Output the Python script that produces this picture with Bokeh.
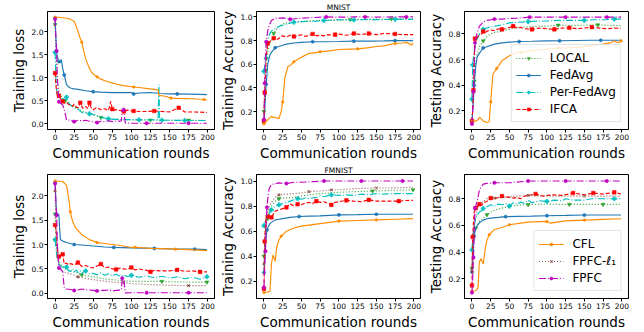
from bokeh.plotting import figure
from bokeh.models import FixedTicker, PrintfTickFormatter, Legend, LegendItem
from bokeh.layouts import column, row
from bokeh.embed import file_html
from bokeh.resources import INLINE

ROUND_TICKS = [0, 25, 50, 75, 100, 125, 150, 175, 200]
LOSS_TICKS = [0.0, 0.5, 1.0, 1.5, 2.0]
TRAIN_ACC_TICKS = [0.2, 0.4, 0.6, 0.8, 1.0]
TEST_ACC_TICKS = [0.2, 0.4, 0.6, 0.8]
METHODS = ["LOCAL", "FedAvg", "Per-FedAvg", "IFCA", "CFL", "FPFC-ℓ₁", "FPFC"]

# ---------------- MNIST : training loss ----------------
p1_local_x = [0, 1, 2, 3, 5, 7, 10, 13, 15, 18, 20, 25, 30, 35, 40, 45, 50, 55, 60, 65, 70, 80, 90, 100, 110, 125, 140, 150, 160, 175, 190, 199]
p1_local_y = [2.15, 1.6, 1.15, 0.9, 0.72, 0.62, 0.55, 0.5, 0.47, 0.44, 0.42, 0.38, 0.33, 0.28, 0.25, 0.23, 0.21, 0.17, 0.14, 0.12, 0.11, 0.10, 0.095, 0.09, 0.09, 0.085, 0.085, 0.08, 0.08, 0.08, 0.08, 0.08]
p1_local_m = [0, 13, 60, 125, 175]
p1_fedavg_x = [0, 1, 2, 3, 5, 7, 8, 10, 12, 15, 18, 20, 25, 30, 40, 50, 60, 75, 90, 100, 103, 110, 125, 137, 150, 160, 175, 190, 199]
p1_fedavg_y = [2.3, 1.9, 1.55, 1.45, 1.35, 1.33, 1.4, 1.2, 1.06, 0.85, 0.8, 0.78, 0.76, 0.75, 0.72, 0.70, 0.69, 0.68, 0.68, 0.68, 0.65, 0.67, 0.68, 0.66, 0.65, 0.65, 0.645, 0.64, 0.635]
p1_fedavg_m = [0, 5, 12, 50, 103, 160]
p1_perfed_x = [0, 1, 2, 3, 5, 8, 10, 12, 15, 18, 20, 25, 30, 35, 40, 45, 50, 55, 60, 65, 70, 80, 90, 100, 110, 120, 130, 135, 136, 137, 140, 150, 170, 185, 199]
p1_perfed_y = [1.55, 1.0, 0.75, 0.65, 0.6, 0.55, 0.55, 0.52, 0.58, 0.45, 0.41, 0.35, 0.32, 0.25, 0.24, 0.22, 0.2, 0.18, 0.15, 0.13, 0.11, 0.1, 0.095, 0.095, 0.09, 0.09, 0.09, 0.09, 0.85, 0.08, 0.08, 0.08, 0.075, 0.075, 0.075]
p1_perfed_m = [0, 15, 45, 70, 110, 140, 170]
p1_ifca_x = [0, 1, 2, 3, 5, 7, 10, 12, 15, 18, 20, 23, 25, 28, 30, 33, 36, 40, 43, 45, 48, 50, 55, 60, 65, 70, 73, 75, 78, 80, 85, 90, 95, 100, 103, 110, 120, 130, 140, 150, 162, 170, 180, 190, 199]
p1_ifca_y = [1.1, 0.85, 0.7, 0.62, 0.61, 0.55, 0.49, 0.45, 0.47, 0.42, 0.41, 0.38, 0.43, 0.36, 0.35, 0.46, 0.34, 0.38, 0.33, 0.46, 0.32, 0.31, 0.36, 0.31, 0.33, 0.29, 0.49, 0.32, 0.30, 0.31, 0.29, 0.27, 0.30, 0.28, 0.28, 0.27, 0.27, 0.28, 0.27, 0.26, 0.35, 0.26, 0.26, 0.255, 0.25]
p1_ifca_m = [0, 5, 10, 33, 45, 75, 90, 103, 130, 162]
p1_cfl_x = [0, 5, 10, 15, 20, 25, 28, 30, 33, 35, 38, 40, 43, 47, 50, 55, 60, 68, 75, 81, 90, 103, 110, 124, 130, 135, 136, 140, 146, 152, 160, 172, 180, 189, 195, 199]
p1_cfl_y = [2.31, 2.31, 2.3, 2.29, 2.27, 2.22, 2.1, 2.0, 1.85, 1.77, 1.55, 1.42, 1.28, 1.14, 1.08, 1.02, 0.97, 0.92, 0.89, 0.86, 0.83, 0.80, 0.79, 0.76, 0.75, 0.735, 0.62, 0.61, 0.595, 0.56, 0.555, 0.55, 0.545, 0.535, 0.53, 0.515]
p1_cfl_m = [0, 35, 55, 103, 152, 195]
p1_fpfc_x = [0, 1, 2, 3, 5, 7, 10, 12, 15, 20, 25, 30, 35, 40, 45, 50, 55, 60, 65, 70, 75, 80, 85, 87, 88, 90, 92, 100, 120, 150, 175, 199]
p1_fpfc_y = [2.27, 1.9, 1.58, 1.0, 0.48, 0.45, 0.41, 0.31, 0.09, 0.08, 0.05, 0.08, 0.07, 0.08, 0.06, 0.05, 0.03, 0.06, 0.05, 0.07, 0.05, 0.06, 0.06, 0.07, 0.32, 0.31, 0.02, 0.015, 0.015, 0.015, 0.015, 0.015]
p1_fpfc_m = [0, 2, 5, 25, 55, 90, 120, 175]

# ---------------- MNIST : training accuracy ----------------
p2_local_x = [0, 1, 2, 3, 5, 7, 10, 13, 16, 20, 25, 30, 40, 50, 60, 70, 85, 100, 115, 130, 150, 170, 185, 199]
p2_local_y = [0.2, 0.4, 0.55, 0.62, 0.7, 0.76, 0.8, 0.86, 0.89, 0.92, 0.94, 0.95, 0.955, 0.96, 0.965, 0.97, 0.972, 0.975, 0.978, 0.98, 0.982, 0.983, 0.984, 0.985]
p2_local_m = [0, 2, 13, 115, 170]
p2_fedavg_x = [0, 1, 2, 3, 5, 8, 10, 15, 20, 25, 30, 40, 50, 65, 80, 100, 120, 140, 160, 175, 199]
p2_fedavg_y = [0.108, 0.2, 0.33, 0.43, 0.6, 0.68, 0.7, 0.74, 0.75, 0.76, 0.77, 0.78, 0.785, 0.79, 0.79, 0.792, 0.795, 0.795, 0.797, 0.8, 0.8]
p2_fedavg_m = [0, 3, 15, 65, 120, 175]
p2_perfed_x = [0, 1, 2, 3, 5, 7, 10, 15, 20, 25, 30, 40, 50, 60, 70, 80, 90, 100, 120, 140, 160, 175, 190, 199]
p2_perfed_y = [0.54, 0.58, 0.62, 0.65, 0.8, 0.85, 0.88, 0.9, 0.92, 0.93, 0.94, 0.955, 0.96, 0.963, 0.965, 0.97, 0.972, 0.975, 0.975, 0.977, 0.978, 0.98, 0.98, 0.98]
p2_perfed_m = [0, 3, 40, 80, 120, 175]
p2_ifca_x = [0, 1, 2, 3, 5, 7, 10, 13, 15, 18, 20, 23, 25, 30, 35, 40, 45, 50, 55, 60, 65, 70, 75, 80, 85, 90, 95, 100, 110, 120, 130, 140, 150, 160, 175, 185, 199]
p2_ifca_y = [0.12, 0.36, 0.5, 0.66, 0.777, 0.79, 0.8, 0.82, 0.83, 0.81, 0.82, 0.835, 0.84, 0.83, 0.845, 0.835, 0.84, 0.85, 0.835, 0.845, 0.856, 0.84, 0.845, 0.84, 0.85, 0.845, 0.85, 0.855, 0.845, 0.86, 0.85, 0.86, 0.85, 0.86, 0.856, 0.85, 0.85]
p2_ifca_m = [0, 1, 5, 13, 40, 65, 95, 120, 140, 175]
p2_cfl_x = [0, 5, 10, 12, 15, 20, 23, 25, 28, 32, 35, 40, 45, 50, 60, 75, 90, 100, 115, 125, 140, 150, 160, 175, 185, 190, 195, 197, 199]
p2_cfl_y = [0.095, 0.13, 0.16, 0.15, 0.15, 0.14, 0.2, 0.28, 0.49, 0.58, 0.59, 0.62, 0.64, 0.66, 0.69, 0.705, 0.715, 0.725, 0.728, 0.73, 0.74, 0.75, 0.755, 0.775, 0.78, 0.785, 0.77, 0.76, 0.78]
p2_cfl_m = [0, 25, 40, 75, 125, 175]
p2_fpfc_x = [0, 1, 2, 3, 5, 7, 10, 15, 20, 25, 35, 50, 65, 83, 100, 120, 135, 150, 170, 190, 199]
p2_fpfc_y = [0.13, 0.44, 0.65, 0.79, 0.88, 0.93, 0.97, 0.99, 0.99, 0.992, 0.98, 0.99, 0.995, 1.0, 0.998, 1.0, 1.0, 0.999, 1.0, 1.0, 1.0]
p2_fpfc_m = [0, 1, 3, 35, 83, 135, 190]

# ---------------- MNIST : testing accuracy ----------------
p3_local_x = [0, 1, 2, 3, 6, 10, 15, 20, 25, 30, 40, 50, 60, 75, 90, 100, 115, 130, 150, 168, 185, 199]
p3_local_y = [0.12, 0.25, 0.35, 0.43, 0.62, 0.70, 0.745, 0.78, 0.8, 0.81, 0.82, 0.835, 0.85, 0.855, 0.86, 0.86, 0.867, 0.865, 0.867, 0.87, 0.866, 0.865]
p3_local_m = [0, 3, 15, 115, 168]
p3_fedavg_x = [0, 1, 2, 3, 5, 7, 10, 15, 20, 25, 30, 40, 50, 63, 80, 100, 117, 140, 160, 172, 199]
p3_fedavg_y = [0.12, 0.2, 0.3, 0.4, 0.55, 0.62, 0.65, 0.69, 0.70, 0.71, 0.72, 0.73, 0.735, 0.74, 0.742, 0.745, 0.746, 0.748, 0.75, 0.75, 0.75]
p3_fedavg_m = [0, 3, 15, 63, 117, 172]
p3_perfed_x = [0, 1, 2, 3, 5, 7, 10, 15, 20, 25, 30, 40, 50, 60, 75, 90, 100, 115, 130, 150, 165, 180, 190, 199]
p3_perfed_y = [0.29, 0.557, 0.62, 0.67, 0.72, 0.76, 0.8, 0.835, 0.845, 0.855, 0.86, 0.87, 0.885, 0.89, 0.895, 0.9, 0.9, 0.905, 0.905, 0.905, 0.91, 0.91, 0.915, 0.915]
p3_perfed_m = [0, 1, 15, 75, 150, 190]
p3_ifca_x = [0, 1, 2, 3, 4, 6, 8, 10, 13, 15, 18, 20, 25, 30, 35, 40, 45, 50, 55, 60, 65, 70, 80, 90, 100, 110, 120, 130, 140, 150, 160, 170, 180, 190, 199]
p3_ifca_y = [0.12, 0.2, 0.36, 0.6, 0.763, 0.77, 0.78, 0.79, 0.8, 0.818, 0.81, 0.82, 0.83, 0.825, 0.84, 0.835, 0.84, 0.85, 0.86, 0.845, 0.85, 0.84, 0.835, 0.845, 0.84, 0.835, 0.845, 0.847, 0.84, 0.845, 0.852, 0.845, 0.84, 0.845, 0.843]
p3_ifca_m = [0, 2, 4, 15, 40, 55, 80, 110, 130, 160]
p3_cfl_x = [0, 5, 8, 10, 12, 15, 20, 23, 25, 28, 33, 40, 50, 60, 65, 75, 90, 100, 115, 125, 140, 150, 160, 170, 175, 185, 190, 195, 199]
p3_cfl_y = [0.12, 0.12, 0.13, 0.15, 0.14, 0.12, 0.11, 0.115, 0.27, 0.485, 0.53, 0.59, 0.63, 0.655, 0.655, 0.665, 0.675, 0.68, 0.69, 0.69, 0.695, 0.70, 0.71, 0.715, 0.72, 0.73, 0.745, 0.73, 0.745]
p3_cfl_m = [0, 25, 33, 65, 115, 199]
p3_fpfc_x = [0, 1, 2, 3, 4, 7, 10, 15, 20, 30, 40, 50, 60, 77, 100, 125, 150, 180, 199]
p3_fpfc_y = [0.098, 0.2, 0.35, 0.55, 0.73, 0.81, 0.86, 0.89, 0.905, 0.915, 0.915, 0.92, 0.922, 0.93, 0.93, 0.93, 0.93, 0.93, 0.93]
p3_fpfc_m = [0, 2, 4, 30, 77, 125, 180]

# ---------------- FMNIST : training loss ----------------
p4_local_x = [0, 1, 2, 3, 5, 7, 10, 15, 20, 25, 30, 35, 40, 50, 60, 75, 90, 100, 120, 140, 160, 180, 199]
p4_local_y = [1.62, 1.2, 0.95, 0.85, 0.7, 0.6, 0.55, 0.48, 0.46, 0.44, 0.41, 0.38, 0.36, 0.34, 0.31, 0.28, 0.26, 0.245, 0.245, 0.245, 0.235, 0.23, 0.23]
p4_local_m = [0, 35, 140, 199]
p4_fedavg_x = [0, 1, 2, 5, 6, 7, 10, 15, 20, 25, 35, 50, 65, 77, 100, 115, 130, 150, 165, 183, 199]
p4_fedavg_y = [2.27, 1.9, 1.62, 1.61, 1.3, 1.1, 1.07, 1.04, 1.02, 1.0, 0.99, 0.97, 0.95, 0.94, 0.93, 0.925, 0.92, 0.91, 0.905, 0.905, 0.895]
p4_fedavg_m = [0, 2, 25, 77, 130, 183]
p4_perfed_x = [0, 1, 2, 3, 5, 8, 10, 13, 15, 18, 20, 23, 25, 28, 30, 33, 35, 38, 40, 45, 50, 55, 60, 65, 70, 75, 80, 85, 90, 95, 100, 110, 120, 130, 140, 150, 160, 170, 180, 190, 199]
p4_perfed_y = [1.1, 0.95, 0.8, 0.7, 0.6, 0.55, 0.54, 0.5, 0.54, 0.46, 0.45, 0.5, 0.44, 0.48, 0.42, 0.46, 0.41, 0.45, 0.46, 0.4, 0.41, 0.38, 0.42, 0.37, 0.4, 0.36, 0.39, 0.35, 0.38, 0.34, 0.37, 0.33, 0.36, 0.32, 0.35, 0.31, 0.34, 0.3, 0.33, 0.29, 0.34]
p4_perfed_m = [0, 15, 40, 100, 199]
p4_ifca_x = [0, 1, 2, 3, 5, 8, 10, 12, 15, 18, 20, 25, 30, 35, 40, 45, 50, 55, 60, 65, 70, 75, 80, 85, 90, 95, 100, 105, 110, 120, 125, 130, 140, 150, 160, 170, 180, 190, 199]
p4_ifca_y = [1.4, 1.3, 1.2, 0.9, 0.755, 0.74, 0.8, 0.6, 0.62, 0.58, 0.61, 0.58, 0.63, 0.55, 0.57, 0.54, 0.52, 0.56, 0.6, 0.52, 0.54, 0.5, 0.49, 0.52, 0.5, 0.49, 0.53, 0.48, 0.5, 0.47, 0.44, 0.47, 0.46, 0.46, 0.48, 0.45, 0.46, 0.44, 0.44]
p4_ifca_m = [0, 5, 10, 30, 60, 80, 100, 125, 160, 190]
p4_cfl_x = [0, 10, 15, 18, 20, 23, 27, 35, 45, 55, 65, 75, 90, 100, 105, 125, 150, 158, 175, 199]
p4_cfl_y = [2.3, 2.29, 2.21, 1.93, 1.67, 1.47, 1.34, 1.2, 1.1, 1.04, 1.02, 1.0, 0.97, 0.94, 0.945, 0.92, 0.91, 0.905, 0.895, 0.875]
p4_cfl_m = [0, 20, 55, 105, 158]
p4_fpfcl1_x = [0, 1, 2, 3, 5, 8, 10, 15, 20, 30, 40, 50, 60, 75, 90, 100, 125, 150, 175, 199]
p4_fpfcl1_y = [2.1, 1.4, 1.0, 0.75, 0.6, 0.5, 0.45, 0.42, 0.4, 0.34, 0.31, 0.28, 0.26, 0.23, 0.22, 0.2, 0.18, 0.165, 0.16, 0.16]
p4_fpfcl1_m = [0, 30, 90, 175]
p4_fpfc_x = [0, 1, 2, 3, 5, 8, 10, 12, 15, 20, 25, 30, 35, 40, 45, 50, 55, 60, 65, 70, 75, 80, 87, 88, 90, 92, 100, 120, 150, 175, 199]
p4_fpfc_y = [2.25, 1.9, 1.6, 1.0, 0.52, 0.48, 0.44, 0.11, 0.09, 0.08, 0.06, 0.07, 0.09, 0.07, 0.07, 0.06, 0.05, 0.06, 0.06, 0.07, 0.05, 0.06, 0.07, 0.31, 0.31, 0.01, 0.013, 0.013, 0.013, 0.013, 0.013]
p4_fpfc_m = [0, 2, 5, 25, 55, 88, 120, 175]

# ---------------- FMNIST : training accuracy ----------------
p5_local_x = [0, 1, 2, 3, 5, 7, 10, 15, 20, 30, 40, 50, 60, 75, 90, 100, 120, 145, 170, 199]
p5_local_y = [0.4, 0.52, 0.6, 0.65, 0.7, 0.76, 0.8, 0.84, 0.86, 0.865, 0.87, 0.88, 0.89, 0.9, 0.905, 0.91, 0.915, 0.92, 0.925, 0.93]
p5_local_m = [0, 5, 20, 145, 199]
p5_fedavg_x = [0, 1, 2, 4, 6, 8, 10, 15, 20, 25, 35, 47, 60, 75, 100, 125, 150, 175, 199]
p5_fedavg_y = [0.27, 0.4, 0.5, 0.61, 0.64, 0.66, 0.67, 0.69, 0.695, 0.70, 0.71, 0.717, 0.72, 0.722, 0.73, 0.732, 0.735, 0.735, 0.735]
p5_fedavg_m = [0, 4, 47, 100, 150]
p5_perfed_x = [0, 1, 2, 3, 5, 7, 10, 13, 15, 20, 25, 30, 35, 40, 45, 50, 55, 60, 70, 75, 80, 90, 100, 110, 120, 130, 140, 150, 160, 170, 180, 190, 199]
p5_perfed_y = [0.644, 0.66, 0.68, 0.7, 0.72, 0.74, 0.77, 0.79, 0.8, 0.81, 0.82, 0.83, 0.84, 0.85, 0.86, 0.855, 0.865, 0.86, 0.87, 0.88, 0.875, 0.89, 0.885, 0.89, 0.885, 0.895, 0.89, 0.9, 0.895, 0.9, 0.9, 0.9, 0.9]
p5_perfed_m = [0, 10, 20, 45, 90]
p5_ifca_x = [0, 1, 2, 3, 5, 7, 10, 13, 15, 20, 25, 30, 35, 40, 45, 50, 55, 60, 65, 70, 75, 80, 90, 95, 100, 110, 120, 130, 140, 150, 165, 180, 190, 199]
p5_ifca_y = [0.14, 0.518, 0.65, 0.71, 0.717, 0.72, 0.71, 0.74, 0.76, 0.77, 0.78, 0.79, 0.82, 0.8, 0.815, 0.81, 0.825, 0.83, 0.82, 0.84, 0.83, 0.835, 0.81, 0.83, 0.835, 0.846, 0.84, 0.835, 0.85, 0.84, 0.84, 0.84, 0.845, 0.846]
p5_ifca_m = [0, 1, 5, 10, 30, 45, 70, 90, 110, 140, 180]
p5_cfl_x = [0, 5, 8, 10, 12, 15, 17, 20, 23, 30, 40, 50, 75, 100, 125, 150, 175, 199]
p5_cfl_y = [0.11, 0.115, 0.12, 0.34, 0.41, 0.36, 0.47, 0.53, 0.56, 0.6, 0.625, 0.64, 0.66, 0.68, 0.685, 0.69, 0.695, 0.70]
p5_cfl_m = [0, 23, 100, 150]
p5_fpfcl1_x = [0, 1, 2, 3, 5, 7, 10, 15, 20, 30, 40, 50, 60, 75, 90, 100, 125, 150, 175, 199]
p5_fpfcl1_y = [0.34, 0.5, 0.6, 0.68, 0.75, 0.8, 0.83, 0.87, 0.89, 0.895, 0.9, 0.905, 0.915, 0.92, 0.93, 0.93, 0.94, 0.944, 0.945, 0.95]
p5_fpfcl1_m = [0, 20, 60, 90, 150]
p5_fpfc_x = [0, 1, 2, 3, 4, 5, 7, 10, 15, 20, 30, 40, 50, 65, 80, 100, 130, 160, 185, 199]
p5_fpfc_y = [0.15, 0.3, 0.44, 0.65, 0.79, 0.85, 0.94, 0.97, 0.98, 0.985, 0.98, 0.99, 0.99, 0.995, 1.0, 1.0, 1.0, 1.0, 1.0, 1.0]
p5_fpfc_m = [0, 2, 4, 30, 80, 130, 185]

# ---------------- FMNIST : testing accuracy ----------------
p6_local_x = [0, 1, 2, 3, 5, 7, 10, 15, 20, 25, 30, 40, 50, 60, 75, 90, 100, 115, 130, 150, 175, 199]
p6_local_y = [0.278, 0.4, 0.5, 0.55, 0.58, 0.6, 0.63, 0.655, 0.68, 0.7, 0.715, 0.73, 0.74, 0.75, 0.756, 0.758, 0.76, 0.758, 0.758, 0.758, 0.758, 0.758]
p6_local_m = [0, 5, 20, 75, 130, 175]
p6_fedavg_x = [0, 1, 2, 3, 5, 7, 10, 15, 20, 25, 35, 45, 60, 80, 100, 125, 150, 175, 199]
p6_fedavg_y = [0.25, 0.35, 0.45, 0.52, 0.58, 0.6, 0.62, 0.64, 0.65, 0.655, 0.66, 0.666, 0.668, 0.67, 0.673, 0.675, 0.678, 0.678, 0.678]
p6_fedavg_m = [0, 3, 45, 100, 150]
p6_perfed_x = [0, 1, 2, 3, 5, 7, 10, 13, 15, 20, 25, 30, 35, 40, 45, 50, 55, 60, 65, 70, 75, 80, 90, 100, 110, 120, 125, 135, 150, 160, 175, 190, 199]
p6_perfed_y = [0.416, 0.5, 0.56, 0.6, 0.65, 0.68, 0.7, 0.71, 0.727, 0.74, 0.755, 0.745, 0.76, 0.755, 0.765, 0.745, 0.77, 0.76, 0.775, 0.765, 0.79, 0.77, 0.785, 0.78, 0.79, 0.785, 0.8, 0.79, 0.79, 0.8, 0.8, 0.8, 0.8]
p6_perfed_m = [0, 15, 50, 100, 190]
p6_ifca_x = [0, 1, 2, 3, 5, 7, 10, 13, 15, 20, 25, 30, 35, 40, 45, 50, 55, 60, 65, 70, 75, 85, 95, 100, 110, 120, 135, 150, 162, 175, 190, 199]
p6_ifca_y = [0.15, 0.513, 0.62, 0.7, 0.73, 0.74, 0.76, 0.75, 0.77, 0.78, 0.805, 0.8, 0.81, 0.82, 0.815, 0.81, 0.805, 0.81, 0.8, 0.82, 0.825, 0.836, 0.82, 0.825, 0.83, 0.825, 0.843, 0.83, 0.843, 0.835, 0.848, 0.836]
p6_ifca_m = [0, 1, 5, 10, 25, 40, 85, 135, 162, 190]
p6_cfl_x = [0, 5, 8, 10, 12, 15, 18, 20, 23, 30, 40, 50, 75, 100, 105, 125, 150, 175, 199]
p6_cfl_y = [0.108, 0.11, 0.13, 0.33, 0.35, 0.31, 0.435, 0.49, 0.53, 0.57, 0.585, 0.605, 0.625, 0.63, 0.617, 0.634, 0.64, 0.645, 0.65]
p6_cfl_m = [0, 23, 50, 100, 150]
p6_fpfcl1_x = [0, 1, 2, 3, 5, 7, 10, 15, 20, 30, 40, 50, 60, 75, 100, 125, 150, 175, 199]
p6_fpfcl1_y = [0.27, 0.45, 0.55, 0.6, 0.66, 0.72, 0.76, 0.78, 0.8, 0.805, 0.81, 0.815, 0.82, 0.825, 0.82, 0.82, 0.82, 0.82, 0.82]
p6_fpfcl1_m = [0, 30, 75, 150]
p6_fpfc_x = [0, 1, 2, 3, 4, 7, 10, 15, 20, 30, 40, 50, 60, 75, 100, 125, 150, 180, 199]
p6_fpfc_y = [0.096, 0.2, 0.36, 0.55, 0.73, 0.78, 0.87, 0.91, 0.915, 0.92, 0.92, 0.92, 0.925, 0.933, 0.933, 0.933, 0.933, 0.933, 0.933]
p6_fpfc_m = [0, 2, 4, 30, 75, 125, 180]

# ---------------- styles ----------------
STYLE = {
    "LOCAL":      dict(color="#2ca02c", dash="1 2",     marker="inverted_triangle", size=4),
    "FedAvg":     dict(color="#1f77b4", dash="solid",   marker="circle",            size=3.2),
    "Per-FedAvg": dict(color="#00bfbf", dash="7 2 1 2", marker="plus",              size=4.2),
    "IFCA":       dict(color="#ff0000", dash="4 2",     marker="square",            size=3.6),
    "CFL":        dict(color="#ff8c00", dash="solid",   marker="circle",            size=2.6),
    "FPFC-ℓ₁":    dict(color="#8c564b", dash="1 2",     marker="x",                 size=3.5),
    "FPFC":       dict(color="#bf00bf", dash="7 2 1 2", marker="circle",            size=3.4),
}

FONT = "DejaVu Sans"
X_RANGE = (-9.95, 208.95)


def make_panel(series, y_range, yticks, ylabel, width, height, bl, br, bt, bb, title=None):
    p = figure(width=width, height=height, x_range=X_RANGE, y_range=y_range,
               output_backend="svg", toolbar_location=None,
               min_border_left=bl, min_border_right=br, min_border_top=bt, min_border_bottom=bb)
    p.xgrid.visible = False
    p.ygrid.visible = False
    p.outline_line_color = "black"
    p.outline_line_width = 1
    p.outline_line_alpha = 1
    p.background_fill_color = "white"
    p.border_fill_color = "white"
    p.xaxis.ticker = FixedTicker(ticks=ROUND_TICKS)
    p.yaxis.ticker = FixedTicker(ticks=yticks)
    p.yaxis.formatter = PrintfTickFormatter(format="%.1f")
    p.xaxis.axis_label = "Communication rounds"
    p.yaxis.axis_label = ylabel
    for ax in (p.xaxis[0], p.yaxis[0]):
        ax.axis_line_color = "black"
        ax.axis_line_width = 1
        ax.major_tick_in = 0
        ax.major_tick_out = 3
        ax.major_tick_line_color = "black"
        ax.minor_tick_line_color = None
        ax.major_label_text_font = FONT
        ax.major_label_text_font_size = "7.5px"
        ax.major_label_text_color = "black"
        ax.major_label_standoff = 1
        ax.axis_label_text_font = FONT
        ax.axis_label_text_font_size = "13.5px"
        ax.axis_label_text_font_style = "normal"
        ax.axis_label_text_color = "black"
        ax.axis_label_standoff = 2
    if title:
        p.title.text = title
        p.title.align = "center"
        p.title.text_font = FONT
        p.title.text_font_size = "7.5px"
        p.title.text_font_style = "normal"
        p.title.text_color = "black"
        p.title.standoff = 0
        p.title.offset = 0
    items = {}
    for name, xs, ys, marks in series:
        assert len(xs) == len(ys), name
        st = STYLE[name]
        rl = p.line(xs, ys, line_color=st["color"], line_width=1.15, line_dash=st["dash"])
        mx = list(marks)
        my = [ys[xs.index(v)] for v in marks]
        if st["marker"] == "x":
            rm = p.scatter(mx, my, marker="x", size=st["size"], line_color=st["color"], line_width=1.1)
        else:
            rm = p.scatter(mx, my, marker=st["marker"], size=st["size"],
                           fill_color=st["color"], line_color=st["color"], line_width=0.5)
        items[name] = [rl, rm]
    return p, items


def add_legend(p, items, names):
    leg = Legend(items=[LegendItem(label=n, renderers=items[n]) for n in names],
                 location="bottom_right")
    leg.label_text_font = FONT
    leg.label_text_font_size = "12px"
    leg.label_text_color = "black"
    leg.glyph_width = 25
    leg.glyph_height = 8
    leg.label_height = 17
    leg.label_standoff = 9
    leg.spacing = 0
    leg.padding = 4
    leg.margin = 7
    leg.border_line_color = "#cccccc"
    leg.border_line_width = 1
    leg.background_fill_alpha = 0.8
    p.add_layout(leg)


mnist_loss = [("LOCAL", p1_local_x, p1_local_y, p1_local_m), ("FedAvg", p1_fedavg_x, p1_fedavg_y, p1_fedavg_m),
              ("Per-FedAvg", p1_perfed_x, p1_perfed_y, p1_perfed_m), ("IFCA", p1_ifca_x, p1_ifca_y, p1_ifca_m),
              ("CFL", p1_cfl_x, p1_cfl_y, p1_cfl_m), ("FPFC", p1_fpfc_x, p1_fpfc_y, p1_fpfc_m)]
mnist_tracc = [("LOCAL", p2_local_x, p2_local_y, p2_local_m), ("FedAvg", p2_fedavg_x, p2_fedavg_y, p2_fedavg_m),
               ("Per-FedAvg", p2_perfed_x, p2_perfed_y, p2_perfed_m), ("IFCA", p2_ifca_x, p2_ifca_y, p2_ifca_m),
               ("CFL", p2_cfl_x, p2_cfl_y, p2_cfl_m), ("FPFC", p2_fpfc_x, p2_fpfc_y, p2_fpfc_m)]
mnist_teacc = [("LOCAL", p3_local_x, p3_local_y, p3_local_m), ("FedAvg", p3_fedavg_x, p3_fedavg_y, p3_fedavg_m),
               ("Per-FedAvg", p3_perfed_x, p3_perfed_y, p3_perfed_m), ("IFCA", p3_ifca_x, p3_ifca_y, p3_ifca_m),
               ("CFL", p3_cfl_x, p3_cfl_y, p3_cfl_m), ("FPFC", p3_fpfc_x, p3_fpfc_y, p3_fpfc_m)]
fmnist_loss = [("LOCAL", p4_local_x, p4_local_y, p4_local_m), ("FedAvg", p4_fedavg_x, p4_fedavg_y, p4_fedavg_m),
               ("Per-FedAvg", p4_perfed_x, p4_perfed_y, p4_perfed_m), ("IFCA", p4_ifca_x, p4_ifca_y, p4_ifca_m),
               ("CFL", p4_cfl_x, p4_cfl_y, p4_cfl_m), ("FPFC-ℓ₁", p4_fpfcl1_x, p4_fpfcl1_y, p4_fpfcl1_m),
               ("FPFC", p4_fpfc_x, p4_fpfc_y, p4_fpfc_m)]
fmnist_tracc = [("LOCAL", p5_local_x, p5_local_y, p5_local_m), ("FedAvg", p5_fedavg_x, p5_fedavg_y, p5_fedavg_m),
                ("Per-FedAvg", p5_perfed_x, p5_perfed_y, p5_perfed_m), ("IFCA", p5_ifca_x, p5_ifca_y, p5_ifca_m),
                ("CFL", p5_cfl_x, p5_cfl_y, p5_cfl_m), ("FPFC-ℓ₁", p5_fpfcl1_x, p5_fpfcl1_y, p5_fpfcl1_m),
                ("FPFC", p5_fpfc_x, p5_fpfc_y, p5_fpfc_m)]
fmnist_teacc = [("LOCAL", p6_local_x, p6_local_y, p6_local_m), ("FedAvg", p6_fedavg_x, p6_fedavg_y, p6_fedavg_m),
                ("Per-FedAvg", p6_perfed_x, p6_perfed_y, p6_perfed_m), ("IFCA", p6_ifca_x, p6_ifca_y, p6_ifca_m),
                ("CFL", p6_cfl_x, p6_cfl_y, p6_cfl_m), ("FPFC-ℓ₁", p6_fpfcl1_x, p6_fpfcl1_y, p6_fpfcl1_m),
                ("FPFC", p6_fpfc_x, p6_fpfc_y, p6_fpfc_m)]

H1, H2 = 163, 169
f1, _ = make_panel(mnist_loss, (-0.12, 2.435), LOSS_TICKS, "Training loss", 216, H1, 47, 2, 9, 26)
f2, _ = make_panel(mnist_tracc, (0.048, 1.046), TRAIN_ACC_TICKS, "Training Accuracy", 208, H1, 37, 4, 9, 26, title="MNIST")
f3, it3 = make_panel(mnist_teacc, (0.055, 0.974), TEST_ACC_TICKS, "Testing Accuracy", 220, H1, 33, 16, 9, 26)
add_legend(f3, it3, METHODS[:4])
f4, _ = make_panel(fmnist_loss, (-0.105, 2.433), LOSS_TICKS, "Training loss", 216, H2, 47, 2, 10, 31)
f5, _ = make_panel(fmnist_tracc, (0.063, 1.052), TRAIN_ACC_TICKS, "Training Accuracy", 208, H2, 37, 4, 10, 31, title="FMNIST")
f6, it6 = make_panel(fmnist_teacc, (0.052, 0.982), TEST_ACC_TICKS, "Testing Accuracy", 220, H2, 33, 16, 10, 31)
add_legend(f6, it6, METHODS[4:])

layout = column(row(f1, f2, f3), row(f4, f5, f6))
open("out.html", "w").write(file_html(layout, INLINE))
